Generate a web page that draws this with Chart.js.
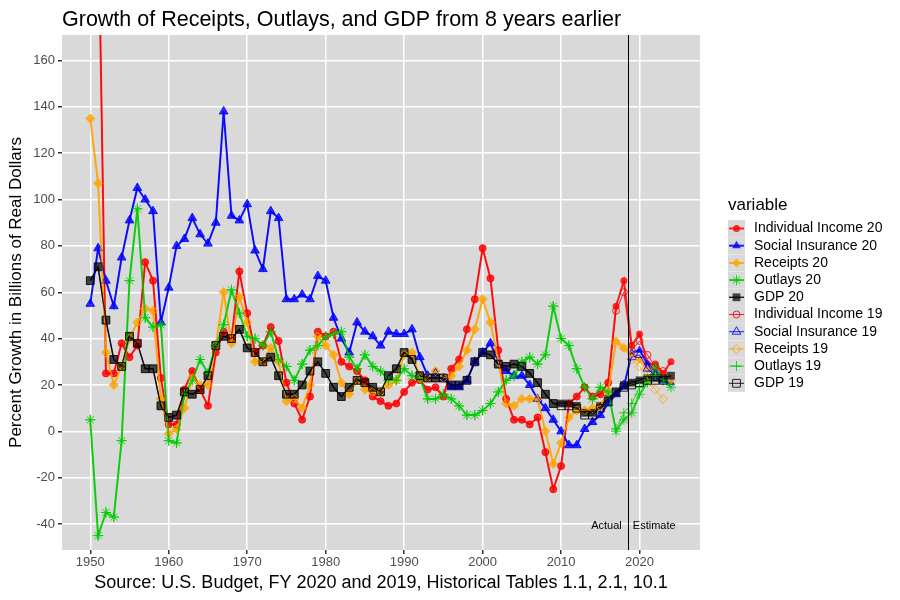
<!DOCTYPE html>
<html>
<head>
<title>Growth of Receipts, Outlays, and GDP</title>
<script src="https://cdn.jsdelivr.net/npm/chart.js"></script>
<style>
  body { margin: 0; background: #fff; }
</style>
</head>
<body>
<canvas id="growthChart" width="900" height="600"></canvas>
<script>
// fiscal years 1950..2024
const years = [
  1950, 1951, 1952, 1953, 1954, 1955, 1956, 1957, 1958, 1959,
  1960, 1961, 1962, 1963, 1964, 1965, 1966, 1967, 1968, 1969,
  1970, 1971, 1972, 1973, 1974, 1975, 1976, 1977, 1978, 1979,
  1980, 1981, 1982, 1983, 1984, 1985, 1986, 1987, 1988, 1989,
  1990, 1991, 1992, 1993, 1994, 1995, 1996, 1997, 1998, 1999,
  2000, 2001, 2002, 2003, 2004, 2005, 2006, 2007, 2008, 2009,
  2010, 2011, 2012, 2013, 2014, 2015, 2016, 2017, 2018, 2019,
  2020, 2021, 2022, 2023, 2024
];

// percent growth from 8 years earlier, FY 2020 budget
const indivIncome20 = [
  null, 230, 25, 25, 38, 32, 37, 73, 65, 23,
  3, 3, 18, 26, 18, 11, 34, 43, 40, 69,
  51, 34, 37, 45, 39, 21, 12, 5, 15, 43,
  41, 43, 30, 28, 26, 22, 15, 13, 11, 12,
  17, 21, 22, 18, 19, 15, 27, 31, 44, 57,
  79, 66, 35, 14, 5, 5, 3, 6, -9, -25,
  -15, 12, 15, 19, 15, 16, 21, 54, 65, 37,
  42, 29, 29, 25, 30
];
const socialIns20 = [
  55, 79, 65, 54, 75, 91, 105, 100, 95, 47,
  62, 80, 83, 92, 85, 81, 90, 138, 93, 91,
  98, 78, 70, 95, 92, 57, 57, 59, 57, 67,
  65, 49, 40, 34, 47, 43, 41, 37, 43, 42,
  42, 44, 32, 24, 25, 23, 19, 19, 22, 30,
  34, 38, 30, 26, 24, 24, 20, 14, 10, 5,
  0, -6, -6, 1, 4, 7, 12, 16, 19, 34,
  35, 29, 26, 22, 21
];
const receipts20 = [
  135, 107, 34, 20, 28, 40, 47, 53, 52, 14,
  -1, 1, 10, 23, 20, 20, 37, 60, 38, 58,
  47, 30, 30, 36, 30, 13, 14, 10, 20, 41,
  37, 33, 21, 16, 22, 18, 17, 17, 20, 22,
  33, 34, 23, 23, 26, 23, 24, 28, 35, 44,
  57, 47, 30, 12, 11, 14, 14, 14, 0, -14,
  -5, 6, 9, 9, 10, 11, 17, 39, 36, 33,
  31, 27, 24, 23, 22
];
const outlays20 = [
  5, -45, -35, -37, -4, 65, 96, 49, 45, 46,
  -4, -5, 16, 22, 31, 25, 37, 46, 61, 51,
  41, 40, 37, 43, 31, 28, 22, 29, 35, 37,
  41, 42, 43, 32, 27, 33, 28, 26, 22, 22,
  27, 24, 23, 14, 14, 16, 14, 11, 7, 7,
  9, 12, 17, 22, 24, 30, 32, 29, 33, 54,
  40, 37, 27, 19, 14, 19, 17, 0, 5, 8,
  16, 21, 28, 22, 19
];
const gdp20 = [
  65, 71, 48, 31, 28, 41, 38, 27, 27, 11,
  6, 7, 17, 16, 18, 24, 37, 41, 40, 44,
  36, 34, 30, 32, 24, 16, 16, 20, 26, 30,
  25, 19, 15, 19, 22, 21, 19, 17, 24, 27,
  34, 31, 24, 23, 23, 23, 20, 20, 22, 30,
  34, 33, 29, 28, 29, 28, 25, 21, 16, 12,
  12, 12, 11, 8, 8, 11, 14, 17, 20, 21,
  22, 23, 23, 23, 24
];

// same measures, FY 2019 budget (estimates end in 2023)
const indivIncome19 = [
  null, 230, 25, 25, 38, 32, 37, 73, 65, 23,
  3, 3, 18, 26, 18, 11, 34, 43, 40, 69,
  51, 34, 37, 45, 39, 21, 12, 5, 15, 43,
  41, 43, 30, 28, 26, 22, 15, 13, 11, 12,
  17, 21, 22, 18, 19, 15, 27, 31, 44, 57,
  79, 66, 35, 14, 5, 5, 3, 6, -9, -25,
  -15, 12, 15, 19, 15, 16, 21, 52, 60, 35,
  39, 33, 28, 26, null
];
const socialIns19 = [
  55, 79, 65, 54, 75, 91, 105, 100, 95, 47,
  62, 80, 83, 92, 85, 81, 90, 138, 93, 91,
  98, 78, 70, 95, 92, 57, 57, 59, 57, 67,
  65, 49, 40, 34, 47, 43, 41, 37, 43, 42,
  42, 44, 32, 24, 25, 23, 19, 19, 22, 30,
  34, 38, 30, 26, 24, 24, 20, 14, 10, 5,
  0, -6, -6, 1, 4, 7, 12, 16, 20, 32,
  33, 27, 24, 22, null
];
const receipts19 = [
  135, 107, 34, 20, 28, 40, 47, 53, 52, 14,
  -1, 1, 10, 23, 20, 20, 37, 60, 38, 58,
  47, 30, 30, 36, 30, 13, 14, 10, 20, 41,
  37, 33, 21, 16, 22, 18, 17, 17, 20, 22,
  33, 34, 23, 23, 26, 23, 24, 28, 35, 44,
  57, 47, 30, 12, 11, 14, 14, 14, 0, -14,
  -5, 6, 9, 9, 10, 11, 17, 38, 36, 31,
  28, 23, 18, 14, null
];
const outlays19 = [
  5, -45, -35, -37, -4, 65, 96, 49, 45, 46,
  -4, -5, 16, 22, 31, 25, 37, 46, 61, 51,
  41, 40, 37, 43, 31, 28, 22, 29, 35, 37,
  41, 42, 43, 32, 27, 33, 28, 26, 22, 22,
  27, 24, 23, 14, 14, 16, 14, 11, 7, 7,
  9, 12, 17, 22, 24, 30, 32, 29, 33, 54,
  40, 37, 27, 19, 14, 19, 17, 1, 8, 12,
  19, 22, 24, 22, null
];
const gdp19 = [
  65, 71, 48, 31, 28, 41, 38, 27, 27, 11,
  6, 7, 17, 16, 18, 24, 37, 41, 40, 44,
  36, 34, 30, 32, 24, 16, 16, 20, 26, 30,
  25, 19, 15, 19, 22, 21, 19, 17, 24, 27,
  34, 31, 24, 23, 23, 23, 20, 20, 22, 30,
  34, 33, 29, 28, 29, 28, 25, 21, 16, 12,
  11, 11, 10, 7, 7, 10, 13, 17, 19, 20,
  21, 22, 22, 22, null
];

const yTicks = [-40, -20, 0, 20, 40, 60, 80, 100, 120, 140, 160];
const xTicks = [1950, 1960, 1970, 1980, 1990, 2000, 2010, 2020];
const splitYear = 2018.5;

const FONT = '"Liberation Sans", Arial, sans-serif';

const series = [
  { name: 'Individual Income 20', values: indivIncome20, rgb: '255,0,0',   style: 'circle',   r: 3.5, filled: true,  lw: 2 },
  { name: 'Social Insurance 20',  values: socialIns20,   rgb: '0,0,255',   style: 'triangle', r: 5,   filled: true,  lw: 2 },
  { name: 'Receipts 20',          values: receipts20,    rgb: '255,165,0', style: 'rectRot',  r: 4.5, filled: true,  lw: 2 },
  { name: 'Outlays 20',           values: outlays20,     rgb: '0,205,0',   style: 'star',     r: 5,   filled: false, lw: 2 },
  { name: 'GDP 20',               values: gdp20,         rgb: '0,0,0',     style: 'rect',     r: 5.5, filled: true,  lw: 1.5 },
  { name: 'Individual Income 19', values: indivIncome19, rgb: '255,0,0',   style: 'circle',   r: 3.5, filled: false, lw: 1 },
  { name: 'Social Insurance 19',  values: socialIns19,   rgb: '0,0,255',   style: 'triangle', r: 5,   filled: false, lw: 1 },
  { name: 'Receipts 19',          values: receipts19,    rgb: '255,165,0', style: 'rectRot',  r: 4.5, filled: false, lw: 1 },
  { name: 'Outlays 19',           values: outlays19,     rgb: '0,205,0',   style: 'cross',    r: 5,   filled: false, lw: 1 },
  { name: 'GDP 19',               values: gdp19,         rgb: '0,0,0',     style: 'rect',     r: 5.5, filled: false, lw: 1 }
];

function rgba(rgb, a) { return 'rgba(' + rgb + ',' + a + ')'; }

const datasets = series.map((s, i) => ({
  label: s.name,
  data: years.map((yr, k) => ({ x: yr, y: s.values[k] })),
  borderColor: rgba(s.rgb, s.rgb === '0,0,0' ? 0.8 : 0.85),
  borderWidth: s.lw,
  pointStyle: s.style,
  pointRadius: s.r,
  pointBackgroundColor: s.filled ? rgba(s.rgb, s.rgb === '0,0,0' ? 0.7 : 0.8) : 'rgba(0,0,0,0)',
  pointBorderColor: rgba(s.rgb, 0.85),
  pointBorderWidth: s.filled ? 0 : 1,
  tension: 0,
  fill: false,
  order: series.length - i
}));

const decorations = {
  id: 'decorations',
  beforeDraw(chart) {
    const { ctx, chartArea: a } = chart;
    ctx.save();
    ctx.fillStyle = '#D9D9D9';
    ctx.fillRect(a.left, a.top, a.right - a.left, a.bottom - a.top);
    ctx.restore();
  },
  afterDatasetsDraw(chart) {
    const { ctx, chartArea: a, scales } = chart;
    const xs = scales.x.getPixelForValue(splitYear);
    const ys = scales.y.getPixelForValue(-41);
    ctx.save();
    ctx.strokeStyle = '#000';
    ctx.lineWidth = 1;
    ctx.beginPath();
    ctx.moveTo(Math.round(xs) + 0.5, a.top);
    ctx.lineTo(Math.round(xs) + 0.5, a.bottom);
    ctx.stroke();
    ctx.fillStyle = '#000';
    ctx.font = '11px ' + FONT;
    ctx.textBaseline = 'middle';
    ctx.textAlign = 'right';
    ctx.fillText('Actual', xs - 6, ys);
    ctx.textAlign = 'left';
    ctx.fillText('Estimate', xs + 5, ys);
    ctx.restore();
  },
  afterDraw(chart) {
    const { ctx } = chart;
    ctx.save();
    // title
    ctx.fillStyle = '#000';
    ctx.font = '21.5px ' + FONT;
    ctx.textBaseline = 'middle';
    ctx.textAlign = 'left';
    ctx.fillText('Growth of Receipts, Outlays, and GDP from 8 years earlier', 62, 20);

    // legend
    const lx = 728, ly0 = 228.5, step = 17.2, key = 17;
    ctx.font = '17px ' + FONT;
    ctx.fillText('variable', lx, 205);
    ctx.font = '14px ' + FONT;
    series.forEach((s, i) => {
      const cy = ly0 + i * step;
      ctx.fillStyle = '#D9D9D9';
      ctx.fillRect(lx, cy - key / 2, key, key);
      ctx.strokeStyle = rgba(s.rgb, 0.85);
      ctx.lineWidth = s.lw;
      ctx.beginPath();
      ctx.moveTo(lx + 1, cy);
      ctx.lineTo(lx + key - 1, cy);
      ctx.stroke();
      ctx.fillStyle = s.filled ? rgba(s.rgb, s.rgb === '0,0,0' ? 0.7 : 0.8) : 'rgba(0,0,0,0)';
      ctx.strokeStyle = rgba(s.rgb, 0.85);
      ctx.lineWidth = 1;
      if (Chart.helpers && Chart.helpers.drawPoint) {
        Chart.helpers.drawPoint(ctx, {
          pointStyle: s.style, rotation: 0, radius: s.r,
          borderWidth: s.filled ? 0 : 1
        }, lx + key / 2, cy);
      }
      ctx.fillStyle = '#000';
      ctx.fillText(s.name, lx + 26, cy);
    });
    ctx.restore();
  }
};

new Chart(document.getElementById('growthChart'), {
  type: 'line',
  data: { datasets },
  options: {
    responsive: false,
    animation: false,
    layout: { padding: { top: 35, right: 200, left: 0, bottom: 0 } },
    plugins: {
      legend: { display: false },
      tooltip: { enabled: false },
      title: { display: false }
    },
    scales: {
      x: {
        type: 'linear',
        min: 1946.4,
        max: 2027.7,
        afterFit(scale) { scale.height = 50; },
        afterBuildTicks(scale) { scale.ticks = xTicks.map(v => ({ value: v })); },
        ticks: {
          color: '#4D4D4D',
          font: { size: 13, family: FONT },
          padding: 1,
          maxRotation: 0,
          callback: v => String(v)
        },
        grid: { color: '#FFFFFF', lineWidth: 1.5, tickColor: '#333333', tickLength: 4 },
        border: { display: false },
        title: {
          display: true,
          text: 'Source: U.S. Budget, FY 2020 and 2019, Historical Tables 1.1, 2.1, 10.1',
          color: '#000',
          font: { size: 18, family: FONT },
          padding: { top: 1, bottom: 6 }
        }
      },
      y: {
        min: -51.2,
        max: 171,
        afterFit(scale) { scale.width = 62; },
        afterBuildTicks(scale) { scale.ticks = yTicks.map(v => ({ value: v })); },
        ticks: {
          color: '#4D4D4D',
          font: { size: 13, family: FONT },
          padding: 3,
          callback: v => String(v)
        },
        grid: { color: '#FFFFFF', lineWidth: 1.5, tickColor: '#333333', tickLength: 4 },
        border: { display: false },
        title: {
          display: true,
          text: 'Percent Growth in Billions of Real Dollars',
          color: '#000',
          font: { size: 17, family: FONT },
          padding: { top: 6, bottom: 2 }
        }
      }
    }
  },
  plugins: [decorations]
});
</script>
</body>
</html>
